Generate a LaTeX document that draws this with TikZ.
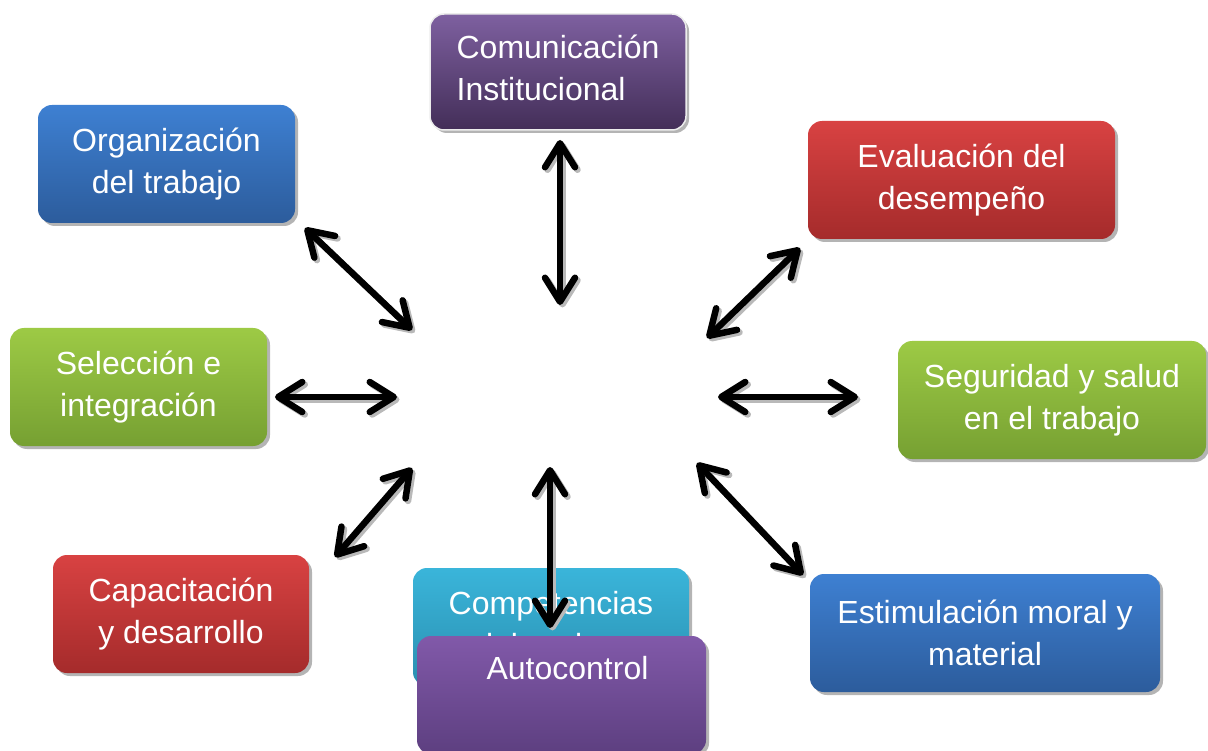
\documentclass[tikz,border=0pt]{standalone}
\usepackage{fontspec}
\setmainfont{Liberation Sans}
\usetikzlibrary{arrows.meta,shadows}
\definecolor{bluetop}{HTML}{3E80D2}
\definecolor{bluebot}{HTML}{2C5C9C}
\definecolor{redtop}{HTML}{D84242}
\definecolor{redbot}{HTML}{A52B2B}
\definecolor{greentop}{HTML}{9DCA45}
\definecolor{greenbot}{HTML}{76A032}
\definecolor{cyantop}{HTML}{3AB5DA}
\definecolor{cyanbot}{HTML}{2A8FB0}
\definecolor{purtop}{HTML}{8159A9}
\definecolor{purbot}{HTML}{5D3F80}
\definecolor{comtop}{HTML}{7E60A0}
\definecolor{combot}{HTML}{432E58}
\tikzset{
  box/.style={rounded corners=14pt, text=white, align=center, inner sep=0pt,
    font=\fontsize{32}{42}\selectfont,
    drop shadow={shadow xshift=3pt, shadow yshift=-3pt, fill=gray!65, opacity=0.9}},
  bluebox/.style={box, top color=bluetop, bottom color=bluebot},
  redbox/.style={box, top color=redtop, bottom color=redbot},
  greenbox/.style={box, top color=greentop, bottom color=greenbot},
  cyanbox/.style={box, top color=cyantop, bottom color=cyanbot},
  purbox/.style={box, top color=purtop, bottom color=purbot},
  tipb/.tip={Straight Barb[length=24pt, width=30pt, line width=6.5pt, round]},
  dbl/.style={line width=6.5pt, black, tipb-tipb,
    preaction={draw=gray!55, line width=6.5pt, tipb-tipb, transform canvas={shift={(2.5pt,-2.5pt)}}}}
}
\begin{document}
\begin{tikzpicture}[x=1pt,y=-1pt]
\useasboundingbox (0,0) rectangle (1208,751);
% boxes
\node[box, shading angle=-40, top color=comtop, bottom color=combot, draw=gray!15, line width=1.5pt,
  minimum width=256pt, minimum height=116pt, align=left] (com) at (558,72) {Comunicación\\Institucional\\[-34pt]\mbox{}};
\node[bluebox, minimum width=257pt, minimum height=118pt] (org) at (166.5,164) {Organización\\del trabajo};
\node[redbox, minimum width=307pt, minimum height=118pt] (eva) at (961.5,180) {Evaluación del\\desempeño};
\node[greenbox, minimum width=257pt, minimum height=118pt] (sel) at (138.5,387) {Selección e\\integración};
\node[greenbox, minimum width=308pt, minimum height=118pt] (seg) at (1052,400) {Seguridad y salud\\en el trabajo};
\node[redbox, minimum width=256pt, minimum height=118pt] (cap) at (181,614) {Capacitación\\y desarrollo};
\node[bluebox, minimum width=350pt, minimum height=118pt] (est) at (985,633) {Estimulación moral y\\material};
\node[cyanbox, minimum width=276pt, minimum height=118pt] (cmp) at (551,627) {Competencias\\laborales\\[-36pt]\mbox{}};
% arrow end points
\coordinate (t1) at (560,140); \coordinate (t2) at (560,305);
\coordinate (o1) at (305,228); \coordinate (o2) at (412,330);
\coordinate (e1) at (800,248); \coordinate (e2) at (707,338);
\coordinate (s1) at (275,397); \coordinate (s2) at (397,397);
\coordinate (g1) at (718,397); \coordinate (g2) at (858,397);
\coordinate (c1) at (412,468); \coordinate (c2) at (335,557);
\coordinate (b1) at (550,467); \coordinate (b2) at (550,628);
\coordinate (m1) at (697,463); \coordinate (m2) at (803,575);
\draw[dbl] (t1) -- (t2);
\draw[dbl] (o1) -- (o2);
\draw[dbl] (e1) -- (e2);
\draw[dbl] (s1) -- (s2);
\draw[dbl] (g1) -- (g2);
\draw[dbl] (c1) -- (c2);
\draw[dbl] (m1) -- (m2);
\draw[dbl] (b1) -- (b2);
\node[purbox, minimum width=289pt, minimum height=118pt] (aut) at (561.5,695) {\hspace*{12pt}Autocontrol\\[12pt]\mbox{}};
\end{tikzpicture}
\end{document}
